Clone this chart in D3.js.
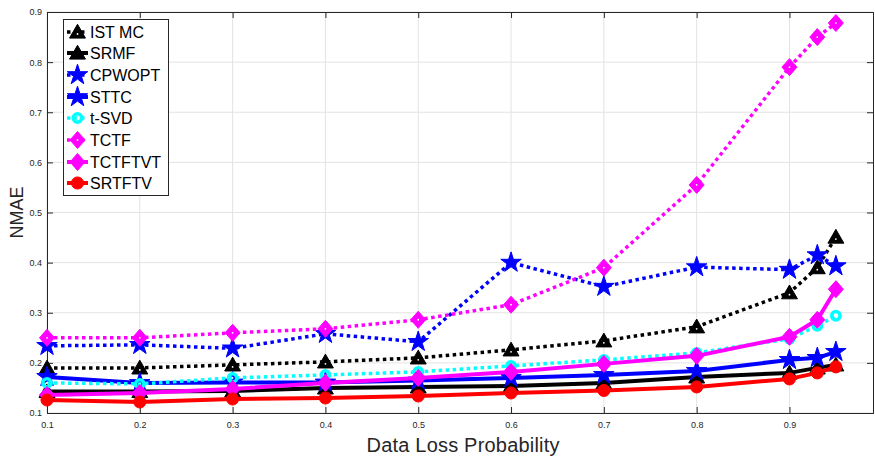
<!DOCTYPE html>
<html>
<head>
<meta charset="utf-8">
<script src="https://cdn.jsdelivr.net/npm/d3@7"></script>
<style>
  body { margin: 0; background: #fff; }
  svg { font-family: "Liberation Sans", Arial, sans-serif; }
</style>
</head>
<body>
<div id="chart"></div>
<script>
// x positions (data loss probability)
const probs = [0.1, 0.2, 0.3, 0.4, 0.5, 0.6, 0.7, 0.8, 0.9, 0.93, 0.95];
const xTicks = [0.1, 0.2, 0.3, 0.4, 0.5, 0.6, 0.7, 0.8, 0.9];
const yTicks = [0.1, 0.2, 0.3, 0.4, 0.5, 0.6, 0.7, 0.8, 0.9];

// series values
const istMC   = [0.190, 0.190, 0.196, 0.202, 0.210, 0.226, 0.244, 0.272, 0.340, 0.390, 0.451];
const srmf    = [0.143, 0.143, 0.144, 0.150, 0.152, 0.154, 0.160, 0.172, 0.180, 0.190, 0.196];
const cpwopt  = [0.234, 0.236, 0.229, 0.258, 0.242, 0.400, 0.352, 0.391, 0.386, 0.415, 0.393];
const sttc    = [0.172, 0.160, 0.161, 0.161, 0.165, 0.170, 0.176, 0.184, 0.206, 0.210, 0.222];
const tsvd    = [0.160, 0.158, 0.170, 0.176, 0.182, 0.194, 0.206, 0.220, 0.248, 0.274, 0.294];
const tctf    = [0.250, 0.250, 0.260, 0.268, 0.286, 0.316, 0.390, 0.555, 0.790, 0.850, 0.878];
const tctftvt = [0.136, 0.140, 0.148, 0.160, 0.170, 0.182, 0.198, 0.214, 0.252, 0.286, 0.347];
const srtftv  = [0.126, 0.122, 0.128, 0.130, 0.134, 0.140, 0.145, 0.152, 0.168, 0.180, 0.192];

const seriesNames = ['IST MC', 'SRMF', 'CPWOPT', 'STTC', 't-SVD', 'TCTF', 'TCTFTVT', 'SRTFTV'];
const seriesValues = [istMC, srmf, cpwopt, sttc, tsvd, tctf, tctftvt, srtftv];
const seriesColors = ['#000000', '#000000', '#0000ff', '#0000ff', '#00ffff', '#ff00ff', '#ff00ff', '#ff0000'];
const seriesDotted = [true, false, true, false, true, true, false, false];
const seriesMarkers = ['triangle', 'triangle', 'star', 'star', 'circle', 'diamond', 'diamond', 'circle'];

const width = 875, height = 460;
const margin = { left: 47, right: 2, top: 12, bottom: 47 };

const svg = d3.select('#chart').append('svg')
  .attr('width', width)
  .attr('height', height);

const x = d3.scaleLinear().domain([0.1, 0.99]).range([margin.left, width - margin.right]);
const y = d3.scaleLinear().domain([0.1, 0.9]).range([height - margin.bottom, margin.top]);

const axisColor = '#262626';

// grid
svg.append('g').selectAll('line')
  .data(xTicks).enter().append('line')
  .attr('x1', d => x(d)).attr('x2', d => x(d))
  .attr('y1', y(0.1)).attr('y2', y(0.9))
  .attr('stroke', '#e3e3e3').attr('stroke-width', 1);
svg.append('g').selectAll('line')
  .data(yTicks).enter().append('line')
  .attr('y1', d => y(d)).attr('y2', d => y(d))
  .attr('x1', x.range()[0]).attr('x2', x.range()[1])
  .attr('stroke', '#e3e3e3').attr('stroke-width', 1);

// axes (box with inward ticks)
const xAxisB = d3.axisBottom(x).tickValues(xTicks).tickSize(-6).tickPadding(9).tickFormat(d3.format('.1f'));
const xAxisT = d3.axisTop(x).tickValues(xTicks).tickSize(-6).tickFormat('');
const yAxisL = d3.axisLeft(y).tickValues(yTicks).tickSize(-6).tickPadding(5).tickFormat(d3.format('.1f'));
const yAxisR = d3.axisRight(y).tickValues(yTicks).tickSize(-6).tickFormat('');

function styleAxis(g) {
  g.select('.domain').attr('stroke', axisColor).attr('stroke-width', 1);
  g.selectAll('.tick line').attr('stroke', axisColor);
  g.selectAll('.tick text').attr('fill', axisColor).style('font-size', '9px')
    .style('font-family', '"Liberation Sans", Arial, sans-serif');
}
svg.append('g').attr('transform', `translate(0,${y(0.1)})`).call(xAxisB).call(styleAxis);
svg.append('g').attr('transform', `translate(0,${y(0.9)})`).call(xAxisT).call(styleAxis);
svg.append('g').attr('transform', `translate(${x.range()[0]},0)`).call(yAxisL).call(styleAxis);
svg.append('g').attr('transform', `translate(${x.range()[1]},0)`).call(yAxisR).call(styleAxis);

// axis titles
svg.append('text')
  .attr('x', 463).attr('y', 452)
  .attr('text-anchor', 'middle')
  .attr('fill', axisColor)
  .style('font-size', '20px')
  .attr('textLength', 193)
  .text('Data Loss Probability');
svg.append('text')
  .attr('transform', `translate(23,${(y(0.1) + y(0.9)) / 2}) rotate(-90)`)
  .attr('text-anchor', 'middle')
  .attr('fill', axisColor)
  .style('font-size', '18px')
  .text('NMAE');

// matlab-like diamond: a bit wider than d3's
const wideDiamond = {
  draw(ctx, size) {
    const w = 7.5, h = 8.5;
    ctx.moveTo(0, -h); ctx.lineTo(w, 0); ctx.lineTo(0, h); ctx.lineTo(-w, 0); ctx.closePath();
  }
};

const symbolFor = {
  triangle: d3.symbol().type(d3.symbolTriangle).size(110),
  star: d3.symbol().type(d3.symbolStar).size(130),
  diamond: d3.symbol().type(wideDiamond),
  circle: d3.symbol().type(d3.symbolCircle).size(115)
};

function drawMarker(g, cx, cy, i) {
  const col = seriesColors[i];
  const type = seriesMarkers[i];
  const dy = type === 'triangle' ? 1.5 : 0;
  const m = g.append('path')
    .attr('d', symbolFor[type]())
    .attr('transform', `translate(${cx},${cy + dy})`)
    .attr('fill', col)
    .attr('stroke', col).attr('stroke-width', 1);
  if (type === 'circle' && seriesDotted[i]) {
    // t-SVD: thick ring
    m.attr('fill', 'none').attr('stroke-width', 3.5).attr('d', d3.symbol().type(d3.symbolCircle).size(55)());
  }
  // dotted markers show a small white spot in the middle (not on stars)
  if (seriesDotted[i] && type !== 'star') {
    g.append('circle').attr('cx', cx).attr('cy', cy + (type === 'triangle' ? 2 : 0))
      .attr('r', 0.9).attr('fill', '#fff');
  }
}

const line = d3.line().x(d => x(d[0])).y(d => y(d[1]));

seriesValues.forEach((vals, i) => {
  const pts = probs.map((p, k) => [p, vals[k]]);
  const g = svg.append('g');
  g.append('path')
    .datum(pts)
    .attr('d', line)
    .attr('fill', 'none')
    .attr('stroke', seriesColors[i])
    .attr('stroke-width', seriesDotted[i] ? 3.5 : 4)
    .attr('stroke-dasharray', seriesDotted[i] ? '3.5,3.5' : null)
    .attr('stroke-linejoin', 'round');
  pts.forEach(p => drawMarker(g, x(p[0]), y(p[1]), i));
});

// legend
const legend = svg.append('g');
legend.append('rect')
  .attr('x', 63.5).attr('y', 19.5).attr('width', 105).attr('height', 176)
  .attr('fill', '#fff').attr('stroke', axisColor).attr('stroke-width', 1);
const legendY = [32, 53, 75, 97, 118, 140, 162, 183];
seriesNames.forEach((name, i) => {
  const ly = legendY[i];
  legend.append('line')
    .attr('x1', 67).attr('x2', 88).attr('y1', ly).attr('y2', ly)
    .attr('stroke', seriesColors[i])
    .attr('stroke-width', seriesDotted[i] ? 3.5 : 4)
    .attr('stroke-dasharray', seriesDotted[i] ? '3.5,3.5' : null);
  drawMarker(legend, 77.5, ly, i);
  legend.append('text')
    .attr('x', 90).attr('y', ly + 6)
    .attr('fill', '#000')
    .style('font-size', '16px')
    .text(name);
});
</script>
</body>
</html>
